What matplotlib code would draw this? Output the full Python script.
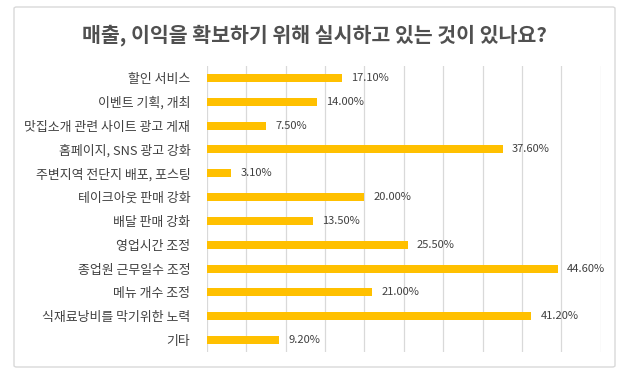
import matplotlib
matplotlib.use("Agg")
import matplotlib.pyplot as plt
from matplotlib.patches import FancyBboxPatch

plt.rcParams['font.family'] = ['Noto Sans CJK KR', 'DejaVu Sans']

title = "매출, 이익을 확보하기 위해 실시하고 있는 것이 있나요?"
categories = ["할인 서비스", "이벤트 기획, 개최", "맛집소개 관련 사이트 광고 게재",
              "홈페이지, SNS 광고 강화", "주변지역 전단지 배포, 포스팅", "테이크아웃 판매 강화",
              "배달 판매 강화", "영업시간 조정", "종업원 근무일수 조정", "메뉴 개수 조정",
              "식재료낭비를 막기위한 노력", "기타"]
values = [17.1, 14.0, 7.5, 37.6, 3.1, 20.0, 13.5, 25.5, 44.6, 21.0, 41.2, 9.2]
xticks = [0, 5, 10, 15, 20, 25, 30, 35, 40, 45, 50]

W, H = 628, 380
fig = plt.figure(figsize=(W/100, H/100), dpi=100)
fig.patch.set_facecolor('white')

# outer border
border = FancyBboxPatch((14/W, (H-367)/H), (615-14)/W, (367-7)/H,
                        boxstyle="round,pad=0,rounding_size=0.004",
                        transform=fig.transFigure, fill=False,
                        edgecolor='#d9d9d9', linewidth=1.0)
fig.patches.append(border)

left, right, top, bottom = 207, 600.7, 66, 352
ax = fig.add_axes([left/W, 1-bottom/H, (right-left)/W, (bottom-top)/H])
ypos = list(range(len(categories)))
ax.barh(ypos, values, height=0.34, color='#FFC000', zorder=3)
ax.set_xlim(0, 50)
ax.set_ylim(len(categories)-0.5, -0.5)
ax.set_xticks(xticks)
ax.set_xticklabels([])
ax.tick_params(axis='x', length=0)
ax.tick_params(axis='y', length=0, pad=12)
ax.set_yticks(ypos)
ax.set_yticklabels(categories, fontsize=9.3, color='#404040', fontweight='medium')
ax.grid(axis='x', color='#d9d9d9', linewidth=0.9, zorder=0)
for s in ax.spines.values():
    s.set_visible(False)
for y, v in zip(ypos, values):
    ax.annotate(f"{v:.2f}%", (v, y), xytext=(6.5, 0), textcoords='offset points',
                va='center', ha='left', fontsize=8, color='#404040')

fig.text(0.5, 1-35/H, title, ha='center', va='center', fontsize=14.8,
         fontweight='bold', color='#505050')

fig.savefig('out.png', dpi=100)
